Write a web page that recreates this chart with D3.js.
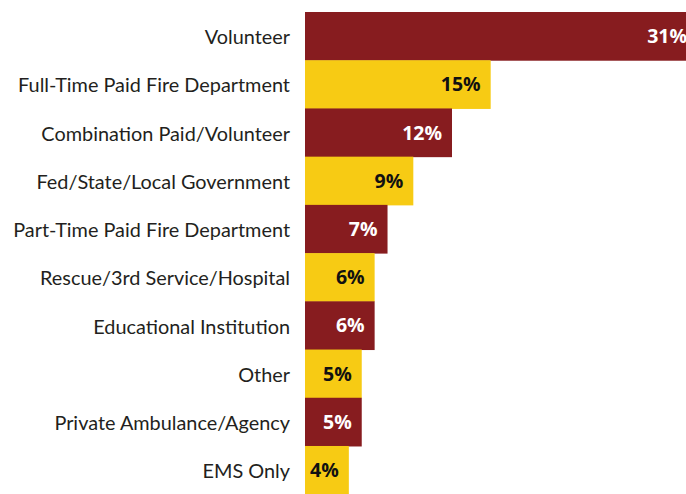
<!DOCTYPE html>
<html>
<head>
<meta charset="utf-8">
<script src="https://cdn.jsdelivr.net/npm/d3@7"></script>
<style>
  html, body { margin: 0; padding: 0; background: #fff; overflow: hidden; }
  svg { display: block; }
</style>
</head>
<body>
<svg id="chart" width="686" height="494"></svg>
<script>
const categories = [
  "Volunteer",
  "Full-Time Paid Fire Department",
  "Combination Paid/Volunteer",
  "Fed/State/Local Government",
  "Part-Time Paid Fire Department",
  "Rescue/3rd Service/Hospital",
  "Educational Institution",
  "Other",
  "Private Ambulance/Agency",
  "EMS Only"
];
const values = [31, 15, 12, 9, 7, 6, 6, 5, 5, 4];
const barColors = ["#871C1F", "#F7CB14"];
const valueTextColors = ["#FFFFFF", "#111111"];

(function () {
  const chartLeft = 305, chartTop = 12, chartBottom = 494;

  const svg = d3.select("#chart");

  const y = d3.scaleBand()
    .domain(categories)
    .range([chartTop, chartBottom + 0.2])
    .paddingInner(0)
    .paddingOuter(0);

  const x = d3.scaleLinear()
    .domain([0.6, 31])
    .range([chartLeft, 697]);

  const x0 = x(x.domain()[0]);
  const data = categories.map((c, i) => ({ c, v: values[i], i }));

  svg.selectAll("rect.bar")
    .data(data)
    .join("rect")
    .attr("class", "bar")
    .attr("x", x0)
    .attr("y", d => y(d.c))
    .attr("width", d => x(d.v) - x0)
    .attr("height", y.bandwidth() + 0.5)
    .attr("fill", d => barColors[d.i % 2]);

  const catLabels = svg.selectAll("text.cat")
    .data(data)
    .join("text")
    .attr("class", "cat")
    .attr("x", 290)
    .attr("y", d => y(d.c) + y.bandwidth() / 2 + 1)
    .attr("dy", "0.36em")
    .attr("text-anchor", "end")
    .attr("font-family", "Lato, 'Open Sans', sans-serif")
    .attr("font-size", 18)
    .attr("fill", "#231F20")
    .text(d => d.c);

  let maxLen = 0;
  catLabels.each(function () { maxLen = Math.max(maxLen, this.getComputedTextLength()); });
  const fs = 18 * 277 / maxLen;
  catLabels.attr("font-size", fs);

  svg.selectAll("text.val")
    .data(data)
    .join("text")
    .attr("class", "val")
    .attr("x", d => x(d.v) - 10)
    .attr("y", d => y(d.c) + y.bandwidth() / 2)
    .attr("dy", "0.36em")
    .attr("text-anchor", "end")
    .attr("font-family", "'Open Sans', sans-serif")
    .attr("font-weight", "bold")
    .attr("font-size", 19.5)
    .attr("fill", d => valueTextColors[d.i % 2])
    .text(d => d.v + "%");
})();
</script>
</body>
</html>
